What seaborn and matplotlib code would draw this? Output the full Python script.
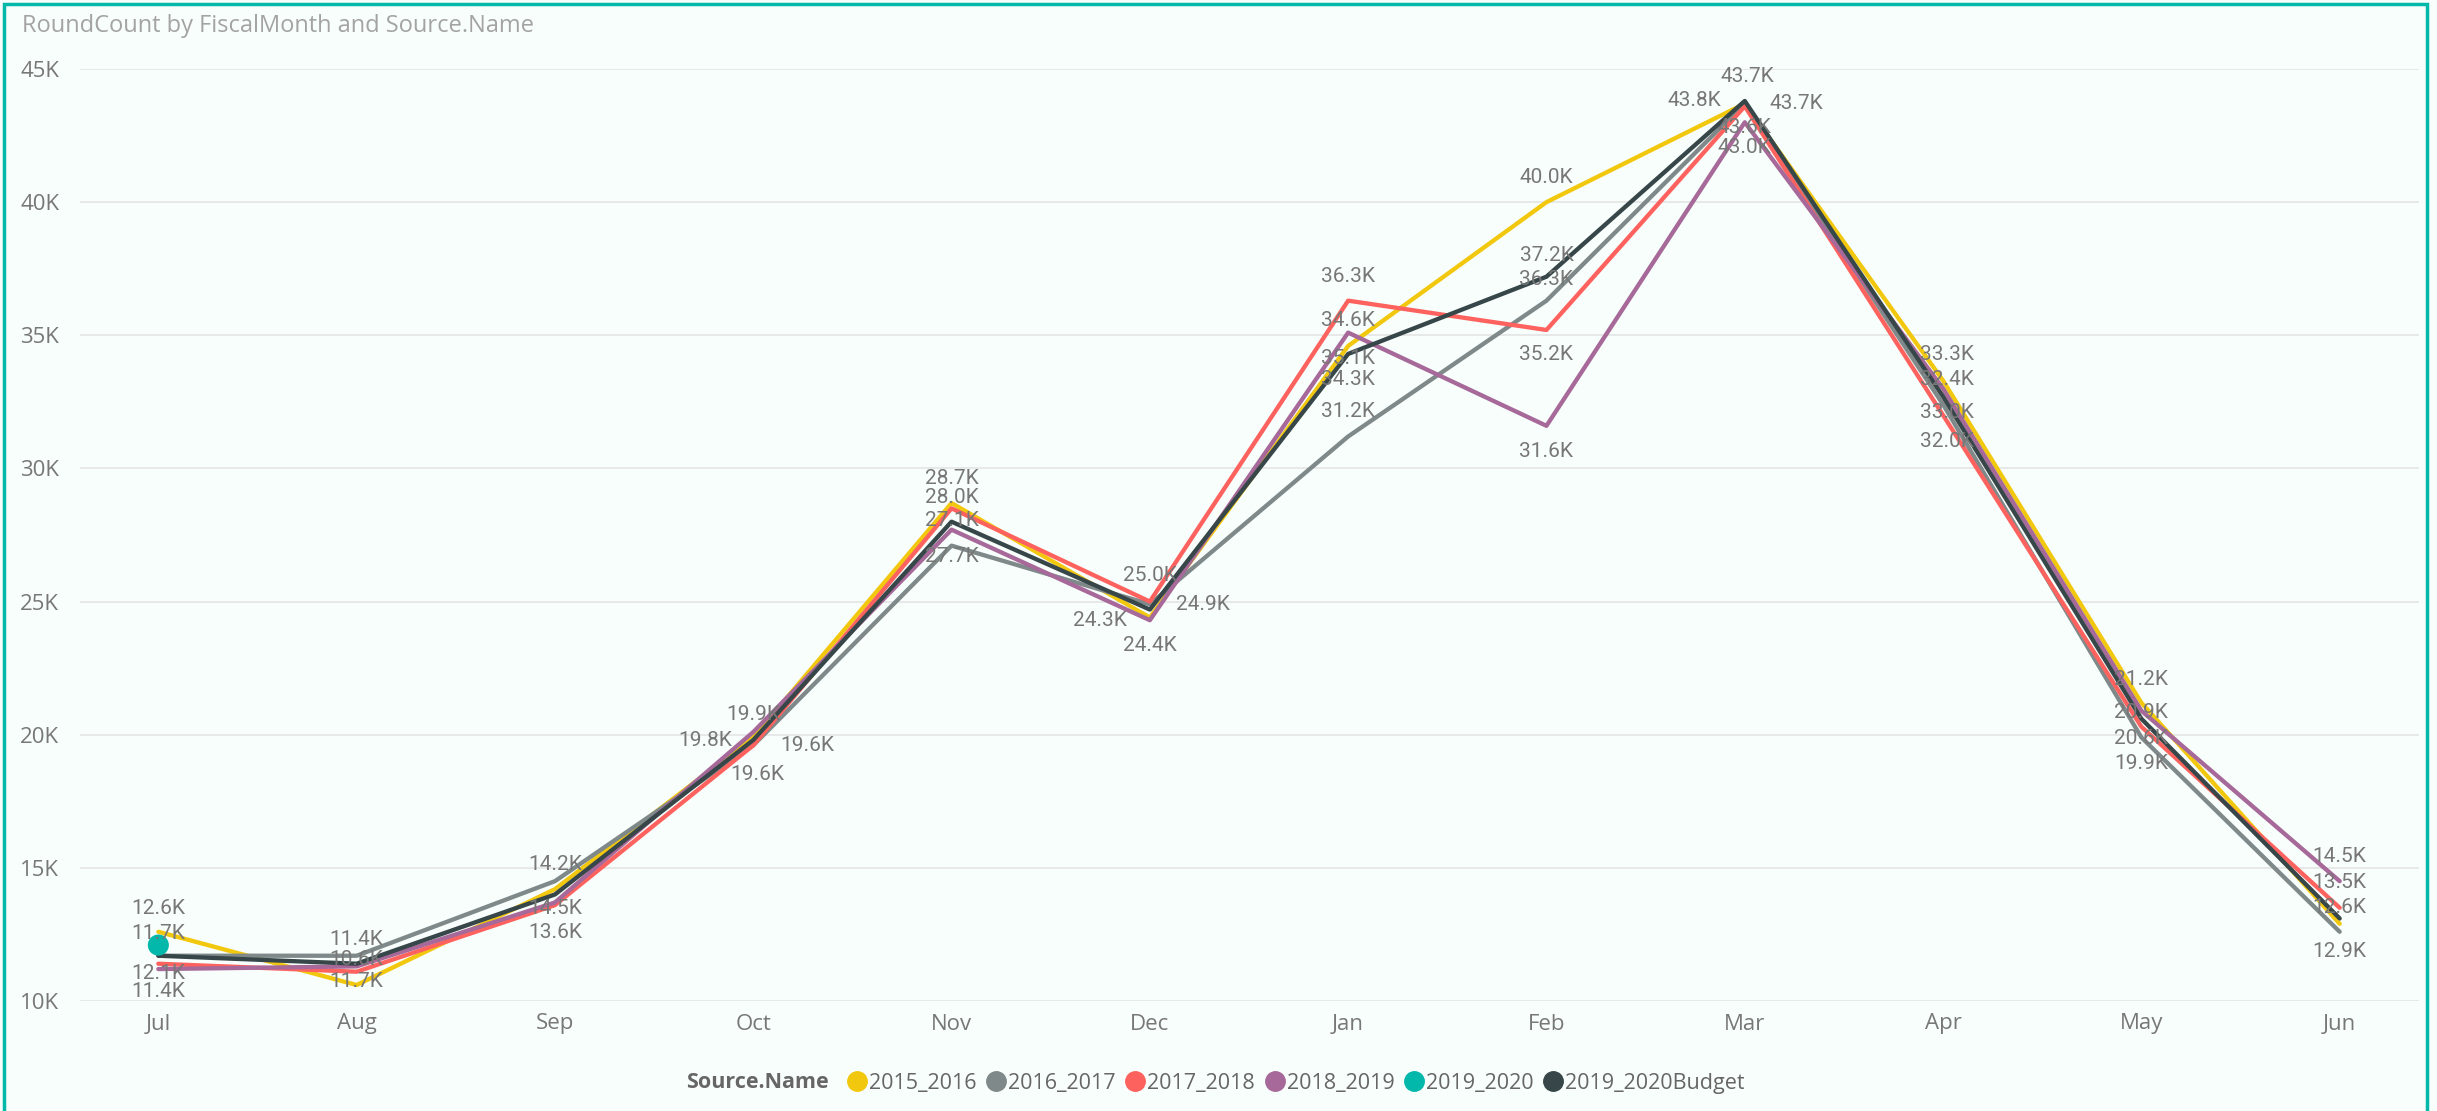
import numpy as np
import pandas as pd
import matplotlib
matplotlib.use("Agg")
import matplotlib.pyplot as plt
import seaborn as sns
from matplotlib.lines import Line2D
from matplotlib.patches import Rectangle
from matplotlib.ticker import FuncFormatter, MultipleLocator

# ---- data (RoundCount per fiscal month) ----
months = ["Jul", "Aug", "Sep", "Oct", "Nov", "Dec", "Jan", "Feb", "Mar", "Apr", "May", "Jun"]
fy_2015_2016 = [12600, 10600, 14200, 19900, 28700, 24400, 34600, 40000, 43700, 33300, 21200, 12900]
fy_2016_2017 = [11700, 11700, 14500, 19600, 27100, 24900, 31200, 36300, 43700, 32400, 19900, 12600]
fy_2017_2018 = [11400, 11100, 13600, 19600, 28500, 25000, 36300, 35200, 43600, 32000, 20300, 13500]
fy_2018_2019 = [11200, 11300, 13700, 20100, 27700, 24300, 35100, 31600, 43000, 33000, 20900, 14500]
fy_2019_2020 = [12100]  # only July so far
fy_2019_2020_budget = [11700, 11400, 14000, 19800, 28000, 24700, 34300, 37200, 43800, 32700, 20600, 13100]

sources = ["2015_2016", "2016_2017", "2017_2018", "2018_2019", "2019_2020", "2019_2020Budget"]
palette = ["#F2C80F", "#7F898A", "#FD625E", "#A66999", "#01B8AA", "#374649"]
series = [fy_2015_2016, fy_2016_2017, fy_2017_2018, fy_2018_2019, fy_2019_2020, fy_2019_2020_budget]

rows = []
for src, vals in zip(sources, series):
    for m, v in zip(months, vals):
        rows.append((src, m, months.index(m), v))
df = pd.DataFrame(rows, columns=["Source.Name", "FiscalMonth", "pos", "RoundCount"])

# data labels shown: (source, month, dx px, dy px down)
labels = [
    ("2015_2016", "Jul", 0, -23), ("2019_2020Budget", "Jul", 0, -22), ("2019_2020", "Jul", 0, 28), ("2017_2018", "Jul", 0, 28),
    ("2019_2020Budget", "Aug", 0, -24), ("2015_2016", "Aug", 0, -26), ("2016_2017", "Aug", 0, 26),
    ("2015_2016", "Sep", 0, -25), ("2016_2017", "Sep", 0, 27), ("2017_2018", "Sep", 0, 27),
    ("2015_2016", "Oct", 0, -23), ("2019_2020Budget", "Oct", -48, 0), ("2016_2017", "Oct", 54, 0), ("2017_2018", "Oct", 4, 29),
    ("2015_2016", "Nov", 0, -25), ("2019_2020Budget", "Nov", 0, -24), ("2016_2017", "Nov", 0, -25), ("2018_2019", "Nov", 0, 27),
    ("2017_2018", "Dec", 0, -26), ("2016_2017", "Dec", 53, 0), ("2018_2019", "Dec", -50, 0), ("2015_2016", "Dec", 0, 28),
    ("2017_2018", "Jan", 0, -24), ("2015_2016", "Jan", 0, -25), ("2018_2019", "Jan", 0, 26),
    ("2019_2020Budget", "Jan", 0, 26), ("2016_2017", "Jan", 0, -25),
    ("2015_2016", "Feb", 0, -25), ("2019_2020Budget", "Feb", 0, -21), ("2016_2017", "Feb", 0, -21),
    ("2017_2018", "Feb", 0, 25), ("2018_2019", "Feb", 0, 26),
    ("2015_2016", "Mar", 3, -27), ("2019_2020Budget", "Mar", -50, 0), ("2016_2017", "Mar", 52, 0),
    ("2017_2018", "Mar", 0, 21), ("2018_2019", "Mar", 0, 25),
    ("2015_2016", "Apr", 4, -26), ("2016_2017", "Apr", 4, -25), ("2018_2019", "Apr", 4, 24), ("2017_2018", "Apr", 4, 26),
    ("2015_2016", "May", 0, -23), ("2018_2019", "May", 0, 2), ("2019_2020Budget", "May", 0, 20), ("2016_2017", "May", 0, 26),
    ("2018_2019", "Jun", 0, -25), ("2017_2018", "Jun", 0, -25), ("2016_2017", "Jun", 0, -24), ("2015_2016", "Jun", 0, 28),
]

bg = "#F8FEFB"
sns.set_style("white")
plt.rcParams["font.family"] = ["Open Sans", "DejaVu Sans"]

fig = plt.figure(figsize=(24.37, 11.11), dpi=100, facecolor=bg)
ax = fig.add_axes([80 / 2437, 1 - 1001 / 1111, (2419 - 80) / 2437, (1001 - 69) / 1111])
ax.set_facecolor(bg)

lines_df = df[df["Source.Name"] != "2019_2020"]
sns.lineplot(data=lines_df, x="pos", y="RoundCount", hue="Source.Name",
             hue_order=[s for s in sources if s != "2019_2020"],
             palette=[c for s, c in zip(sources, palette) if s != "2019_2020"],
             linewidth=3.1, ax=ax, legend=False)
sns.scatterplot(data=df[df["Source.Name"] == "2019_2020"], x="pos", y="RoundCount",
                color=palette[4], s=230, edgecolor="none", ax=ax, legend=False, zorder=5)

for src, m, dx, dy in labels:
    row = df[(df["Source.Name"] == src) & (df["FiscalMonth"] == m)].iloc[0]
    ax.annotate(f"{row.RoundCount / 1000:.1f}K", (row.pos, row.RoundCount),
                xytext=(dx, -dy), textcoords="offset pixels", ha="center", va="center",
                fontsize=15, color="#777777", family=["Roboto", "DejaVu Sans"], zorder=6)

ax.set_xlim(-0.395, 11.4)
ax.set_ylim(10000, 45000)
ax.set_xticks(range(len(months)))
ax.set_xticklabels(months)
ax.yaxis.set_major_locator(MultipleLocator(5000))
ax.yaxis.set_major_formatter(FuncFormatter(lambda v, p: f"{int(v / 1000)}K"))
ax.tick_params(axis="both", length=0, labelsize=16, labelcolor="#777777")
ax.tick_params(axis="y", pad=15)
ax.tick_params(axis="x", pad=9)
ax.grid(axis="y", color="#E6E6E6", linewidth=1.3)
ax.set_axisbelow(True)
for sp in ax.spines.values():
    sp.set_visible(False)
ax.set_xlabel("")
ax.set_ylabel("")

fig.text(22 / 2437, 1 - 26 / 1111, "RoundCount by FiscalMonth and Source.Name",
         fontsize=17, color="#A3A3A3", va="center", ha="left")

handles = [Line2D([], [], linestyle="none", marker="o", markersize=14, color=c) for c in palette]
fig.text(686 / 2437, 1 - 1083 / 1111, "Source.Name", fontsize=15.5, fontweight="bold",
         color="#666666", va="center", ha="left")
fig.legend(handles, sources, loc="center", bbox_to_anchor=(1296 / 2437, 1 - 1083 / 1111),
           ncol=6, frameon=False, fontsize=15.5, labelcolor="#666666",
           handlelength=0.9, handletextpad=0.12, columnspacing=0.45, borderpad=0)

fig.patches.append(Rectangle((4 / 2437, -0.01), 2423 / 2437, 1.01 - 4 / 1111,
                             transform=fig.transFigure, fill=False,
                             edgecolor="#01B8AA", linewidth=2.5, zorder=10))

fig.savefig("out.png", dpi=100, facecolor=bg)
